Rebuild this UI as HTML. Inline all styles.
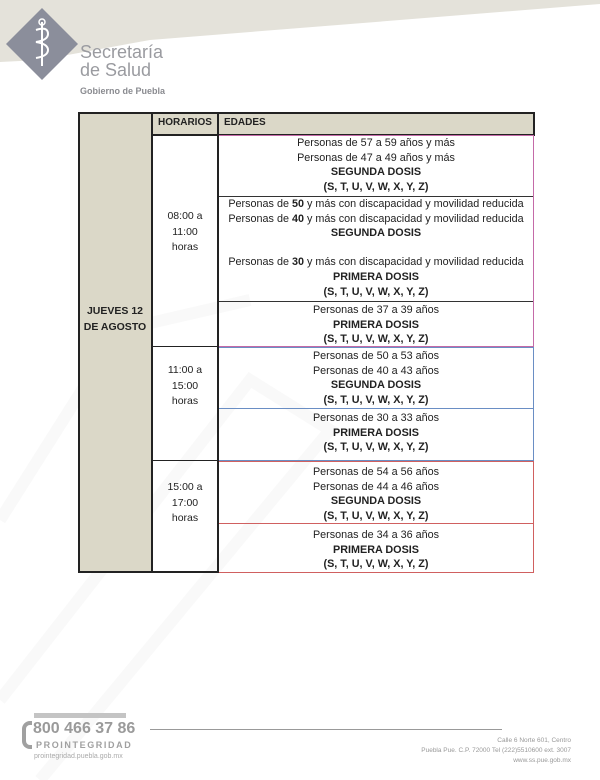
<!DOCTYPE html>
<html><head><meta charset="utf-8">
<style>
*{margin:0;padding:0;box-sizing:border-box}
body{width:600px;height:780px;position:relative;background:#fff;font-family:"Liberation Sans",sans-serif;overflow:hidden}
.a{position:absolute}
.c{position:absolute;text-align:center;font-size:10.8px;line-height:14.7px;color:#222;white-space:nowrap}
b{font-weight:bold}
.box{position:absolute;border:1px solid}
</style></head><body>
<svg class="a" style="left:0;top:0" width="600" height="780">
<polygon points="0,0 600,0 600,4 150,40 40,60 0,62" fill="#e4e2da"/>
<polygon points="42,8 78,44 42,80 6,44" fill="#8b8e9b"/>
<path d="M42 22 v44 M36 30 q12 -4 12 4 q0 6 -12 8 q12 2 12 8 q0 6 -12 8" stroke="#fff" stroke-width="2" fill="none"/>
<circle cx="42" cy="22" r="3" stroke="#fff" stroke-width="1.5" fill="none"/>
<path d="M40 780 L330 430 L250 380 L0 700" stroke="#f9f9f9" stroke-width="12" fill="none"/>
<path d="M0 520 L120 330 L250 300" stroke="#f9f9f9" stroke-width="12" fill="none"/>
</svg>
<div class="a" style="left:80px;top:43px;font-size:18px;line-height:18px;color:#9a9ba0">Secretaría<br>de Salud</div>
<div class="a" style="left:80px;top:86px;font-size:9px;font-weight:bold;color:#8a8b90">Gobierno de Puebla</div>

<!-- table -->
<div class="a" style="left:78px;top:112px;width:75px;height:461px;background:#dbd8c8;border:2px solid #222"></div>
<div class="a" style="left:151px;top:112px;width:384px;height:24px;background:#dbd8c8;border:2px solid #222"></div>
<div class="box" style="left:218px;top:135px;width:316px;height:212px;border-color:#c46aa8"></div>
<div class="box" style="left:218px;top:347px;width:316px;height:114px;border-color:#6a8ec4"></div>
<div class="a" style="left:219px;top:408px;width:314px;height:1px;background:#6a8ec4"></div>
<div class="box" style="left:218px;top:461px;width:316px;height:112px;border-color:#d06060"></div>
<div class="a" style="left:219px;top:523px;width:314px;height:1px;background:#d06060"></div>
<div class="a" style="left:219px;top:196px;width:314px;height:1px;background:#333"></div>
<div class="a" style="left:219px;top:301px;width:314px;height:1px;background:#333"></div>
<div class="a" style="left:217px;top:112px;width:2px;height:461px;background:#222"></div>
<div class="a" style="left:151px;top:134px;width:2px;height:439px;background:#222"></div>
<div class="a" style="left:151px;top:571px;width:67px;height:2px;background:#222"></div>
<div class="a" style="left:152px;top:346px;width:66px;height:1px;background:#222"></div>
<div class="a" style="left:152px;top:460px;width:66px;height:1px;background:#222"></div>
<div class="a" style="left:158px;top:117px;font-size:10px;font-weight:bold;color:#222">HORARIOS</div>
<div class="a" style="left:224px;top:117px;font-size:10px;font-weight:bold;color:#222">EDADES</div>

<div class="c" style="left:78px;top:304px;width:74px;font-weight:bold;line-height:15.5px;font-size:10.5px">JUEVES 12<br>DE AGOSTO</div>
<div class="c" style="left:152px;top:209px;width:66px;line-height:15.5px;font-size:10.5px">08:00 a<br>11:00<br>horas</div>
<div class="c" style="left:152px;top:363px;width:66px;line-height:15.5px;font-size:10.5px">11:00 a<br>15:00<br>horas</div>
<div class="c" style="left:152px;top:480px;width:66px;line-height:15.5px;font-size:10.5px">15:00 a<br>17:00<br>horas</div>

<div class="c" style="left:218px;top:136px;width:316px">Personas de 57 a 59 años y más<br>Personas de 47 a 49 años y más<br><b>SEGUNDA DOSIS</b><br><b>(S, T, U, V, W, X, Y, Z)</b></div>
<div class="c" style="left:218px;top:197px;width:316px">Personas de <b>50</b> y más con discapacidad y movilidad reducida<br>Personas de <b>40</b> y más con discapacidad y movilidad reducida<br><b>SEGUNDA DOSIS</b><div style="height:14px"></div>Personas de <b>30</b> y más con discapacidad y movilidad reducida<br><b>PRIMERA DOSIS</b><br><b>(S, T, U, V, W, X, Y, Z)</b></div>
<div class="c" style="left:218px;top:303px;width:316px">Personas de 37 a 39 años<br><b>PRIMERA DOSIS</b><br><b>(S, T, U, V, W, X, Y, Z)</b></div>
<div class="c" style="left:218px;top:349px;width:316px">Personas de 50 a 53 años<br>Personas de 40 a 43 años<br><b>SEGUNDA DOSIS</b><br><b>(S, T, U, V, W, X, Y, Z)</b></div>
<div class="c" style="left:218px;top:411px;width:316px">Personas de 30 a 33 años<br><b>PRIMERA DOSIS</b><br><b>(S, T, U, V, W, X, Y, Z)</b></div>
<div class="c" style="left:218px;top:465px;width:316px">Personas de 54 a 56 años<br>Personas de 44 a 46 años<br><b>SEGUNDA DOSIS</b><br><b>(S, T, U, V, W, X, Y, Z)</b></div>
<div class="c" style="left:218px;top:528px;width:316px">Personas de 34 a 36 años<br><b>PRIMERA DOSIS</b><br><b>(S, T, U, V, W, X, Y, Z)</b></div>

<!-- footer -->
<div class="a" style="left:34px;top:713px;width:92px;height:5px;background:#c4c4c4"></div>
<div class="a" style="left:22px;top:721px;width:10px;height:28px;border:4px solid #a0a0a0;border-right:none;border-radius:8px 0 0 8px"></div>
<div class="a" style="left:33px;top:720px;font-size:16px;line-height:18px;font-weight:bold;color:#9a9a9a">800 466 37 86</div>
<div class="a" style="left:36px;top:740px;font-size:9px;font-weight:bold;color:#a0a0a0;letter-spacing:1.6px">PROINTEGRIDAD</div>
<div class="a" style="left:34px;top:753px;font-size:7px;color:#aaa">prointegridad.puebla.gob.mx</div>
<div class="a" style="left:150px;top:729px;width:352px;height:1px;background:#999"></div>
<div class="a" style="left:350px;top:736px;width:221px;text-align:right;font-size:6.5px;line-height:10px;color:#999">Calle 6 Norte 601, Centro<br>Puebla Pue. C.P. 72000 Tel (222)5510600 ext. 3007<br>www.ss.pue.gob.mx</div>
</body></html>
